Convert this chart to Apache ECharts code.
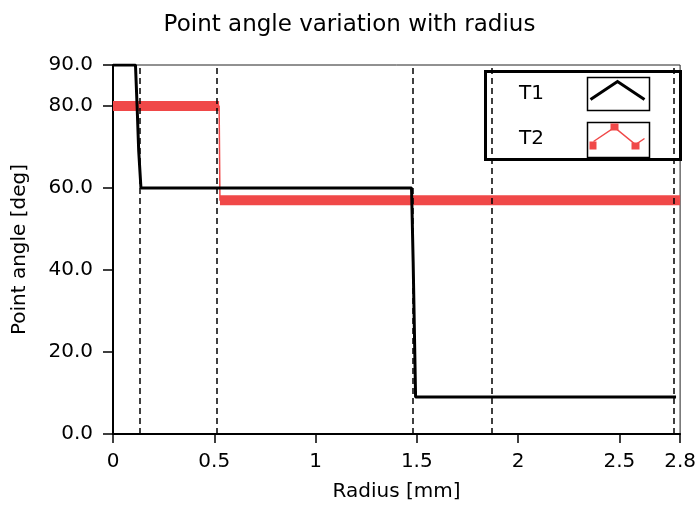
<!DOCTYPE html>
<html>
<head>
<meta charset="utf-8">
<script src="https://cdn.jsdelivr.net/npm/echarts@6/dist/echarts.min.js"></script>
<style>
  html, body { margin: 0; padding: 0; background: #fff; }
  #angleChart { width: 699px; height: 509px; }
</style>
</head>
<body>
<div id="angleChart"></div>
<script>
const seriesNames = ['T1', 'T2'];

const t1_radius = [0, 0.111, 0.119, 0.127, 0.138, 1.474, 1.482, 1.494, 2.78];
const t1_angle = [90, 90, 80, 69, 60, 60, 42, 9, 9];

const t2_radius = [0, 0.524, 0.528, 2.8];
const t2_angle = [80, 80, 57, 57];

// vertical cursor lines
const cursor_radius = [0.127, 0.511, 1.48, 1.868, 2.771];

const FONT = 'DejaVu Sans';
const RED = '#f04848';

const zip = (xs, ys) => xs.map((x, i) => [x, ys[i]]);

// thick overlay: only the flat runs of T2
const t2_flat = [];
for (let i = 1; i < t2_radius.length; i++) {
  if (t2_angle[i] === t2_angle[i - 1]) {
    if (t2_flat.length) t2_flat.push([t2_radius[i - 1], '-']);
    t2_flat.push([t2_radius[i - 1], t2_angle[i - 1]], [t2_radius[i], t2_angle[i]]);
  }
}

const chart = echarts.init(document.querySelector('#angleChart'));
chart.setOption({
  animation: false,
  title: {
    text: 'Point angle variation with radius',
    left: 'center',
    top: 9,
    textStyle: { fontFamily: FONT, fontSize: 23, fontWeight: 'normal', color: '#000' }
  },
  grid: {
    left: 113,
    right: 12,
    top: 65,
    bottom: 75,
    show: true,
    borderColor: '#222',
    borderWidth: 1
  },
  xAxis: {
    type: 'value',
    min: 0,
    max: 2.8,
    interval: 0.5,
    name: 'Radius [mm]',
    nameLocation: 'middle',
    nameGap: 48,
    nameTextStyle: { fontFamily: FONT, fontSize: 20, color: '#000' },
    axisLine: { lineStyle: { color: '#000', width: 2 } },
    axisTick: { length: 9, lineStyle: { color: '#000', width: 1.5 } },
    axisLabel: { fontFamily: FONT, fontSize: 20, color: '#000', margin: 18, formatter: v => String(+v.toFixed(2)) },
    splitLine: { show: false }
  },
  yAxis: {
    type: 'value',
    min: 0,
    max: 90,
    interval: 20,
    name: 'Point angle [deg]',
    nameLocation: 'middle',
    nameGap: 83,
    nameTextStyle: { fontFamily: FONT, fontSize: 20, color: '#000' },
    axisLine: { lineStyle: { color: '#000', width: 2 } },
    axisTick: { length: 10, lineStyle: { color: '#000', width: 1.5 } },
    axisLabel: { fontFamily: FONT, fontSize: 20, color: '#000', margin: 20, formatter: v => v.toFixed(1) },
    splitLine: { show: false }
  },
  series: [
    {
      name: 'T2 flat',
      type: 'line',
      data: t2_flat,
      symbol: 'none',
      connectNulls: false,
      lineStyle: { color: RED, width: 10 },
      z: 2
    },
    {
      name: seriesNames[1],
      type: 'line',
      data: zip(t2_radius, t2_angle),
      symbol: 'none',
      lineStyle: { color: RED, width: 1.5 },
      z: 3
    },
    {
      name: seriesNames[0],
      type: 'line',
      data: zip(t1_radius, t1_angle),
      symbol: 'none',
      lineStyle: { color: '#000', width: 3 },
      z: 4
    },
    {
      name: 'cursors',
      type: 'line',
      data: [],
      z: 5,
      markLine: {
        silent: true,
        symbol: ['none', 'none'],
        label: { show: false },
        lineStyle: { color: '#000', type: [6, 4], width: 1.5 },
        data: cursor_radius.map(v => ({ xAxis: v }))
      }
    }
  ],
  graphic: [
    {
      type: 'group',
      left: 484,
      top: 70,
      z: 100,
      children: [
        { type: 'rect', shape: { x: 0, y: 0, width: 195, height: 88 }, style: { fill: '#fff', stroke: '#000', lineWidth: 3 } },
        { type: 'text', x: 46, y: 22, style: { text: seriesNames[0], font: `20px "${FONT}"`, fill: '#000', align: 'center', verticalAlign: 'middle' } },
        { type: 'text', x: 46, y: 67, style: { text: seriesNames[1], font: `20px "${FONT}"`, fill: '#000', align: 'center', verticalAlign: 'middle' } },
        { type: 'rect', shape: { x: 102, y: 6, width: 62, height: 33 }, style: { fill: '#fff', stroke: '#000', lineWidth: 1.5 } },
        { type: 'rect', shape: { x: 102, y: 51, width: 62, height: 35 }, style: { fill: '#fff', stroke: '#000', lineWidth: 1.5 } },
        { type: 'polyline', shape: { points: [[105, 28], [132, 10], [159, 28]] }, style: { stroke: '#000', lineWidth: 3, fill: null } },
        { type: 'polyline', shape: { points: [[108, 70], [129, 56], [150, 73], [159, 67]] }, style: { stroke: RED, lineWidth: 1.5, fill: null } },
        { type: 'rect', shape: { x: 104, y: 70, width: 7, height: 8 }, style: { fill: RED } },
        { type: 'rect', shape: { x: 125, y: 52, width: 8, height: 7 }, style: { fill: RED } },
        { type: 'rect', shape: { x: 146, y: 71, width: 8, height: 7 }, style: { fill: RED } }
      ]
    }
  ]
});
</script>
</body>
</html>
